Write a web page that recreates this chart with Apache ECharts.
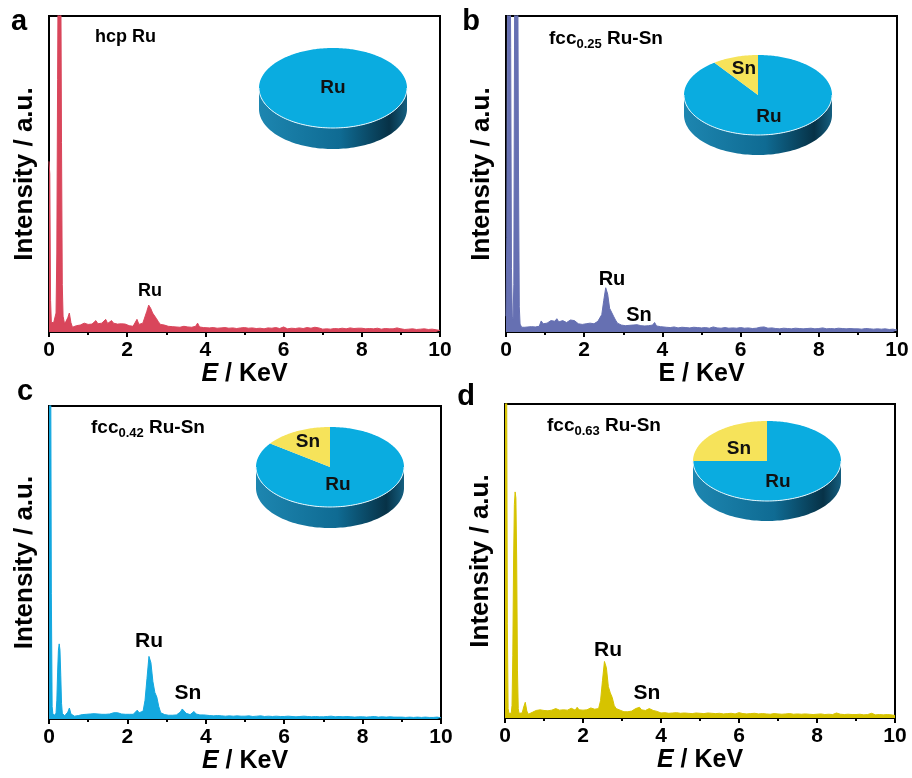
<!DOCTYPE html>
<html><head><meta charset="utf-8">
<script src="https://cdn.jsdelivr.net/npm/echarts@6/dist/echarts.min.js"></script>
<style>html,body{margin:0;padding:0;background:#fff}#c{width:912px;height:778px}</style>
</head><body><div id="c"></div>
<script>
// ---------- data ----------
const energies = [
 0,0.02,0.04,0.06,0.08,0.10,0.12,0.14,0.16,0.18,0.20,0.22,0.24,0.26,0.28,0.30,0.32,0.34,0.36,
 0.40,0.44,0.48,0.52,0.56,0.60,0.65,0.70,
 0.75,0.80,0.85,0.90,0.95,
 1.00,1.05,1.10,1.15,1.20,1.25,1.30,1.35,1.40,1.45,1.50,1.55,1.60,1.65,1.70,1.75,1.80,1.85,1.90,1.95,
 2.00,2.05,2.10,2.15,2.20,2.25,2.30,2.35,2.40,2.45,2.50,2.55,2.60,2.65,2.70,2.75,2.80,2.85,2.90,2.95,
 3.00,3.05,3.10,3.15,3.20,3.25,3.30,3.35,3.40,3.45,3.50,3.55,3.60,3.65,3.70,3.75,3.80,3.85,3.90,3.95,
 4.0,4.1,4.2,4.3,4.4,4.5,4.6,4.7,4.8,4.9,
 5.0,5.1,5.2,5.3,5.4,5.5,5.6,5.7,5.8,5.9,
 6.0,6.1,6.2,6.3,6.4,6.5,6.6,6.7,6.8,6.9,
 7.0,7.1,7.2,7.3,7.4,7.5,7.6,7.7,7.8,7.9,
 8.0,8.1,8.2,8.3,8.4,8.5,8.6,8.7,8.8,8.9,
 9.0,9.1,9.2,9.3,9.4,9.5,9.6,9.7,9.8,9.9,
 10.0
];

// intensities in % of the plotted height (values above 100 are cut by the frame)
const intensityHcpRu = [
 54,50,10,3,2.5,3,3,2.5,3,6,25,80,130,140,140,120,60,15,5,
 2.5,3,4.5,6,3,1.5,1.5,2,
 2,2.2,2.5,2.8,2.6,
 2.4,2.2,2.5,2.3,3.6,2.6,2.4,2.8,2.5,4.0,2.7,3.0,3.6,2.8,2.6,2.5,2.4,2.6,2.3,2.5,
 2.2,2.0,2.1,1.8,2.2,4.0,2.4,2.2,2.8,3.0,6.5,8.5,7.5,6.0,5.8,4.2,3.2,2.4,2.0,2.2,
 2.6,1.8,2.0,1.7,1.5,1.6,1.4,1.5,1.6,1.8,1.5,1.6,1.7,1.5,1.6,1.8,2.8,1.6,1.5,1.4,
 1.5,1.3,1.4,1.2,1.3,1.4,1.2,1.3,1.1,1.3,
 1.4,1.2,1.3,1.1,1.2,1.0,1.3,1.2,1.4,1.1,
 1.6,1.0,1.2,1.1,1.3,1.1,1.4,1.2,1.5,1.3,
 0.9,1.0,0.9,1.1,1.0,1.2,1.0,1.3,1.1,1.2,
 1.2,1.0,1.1,1.0,1.2,0.9,1.1,1.0,1.0,1.3,
 1.0,0.8,0.9,1.0,0.8,0.9,1.0,0.8,0.9,0.7,
 0.5
];
const intensityFcc025 = [
 5,30,110,140,140,130,90,20,5,4,15,100,140,145,140,120,50,8,2.5,
 1.5,1.8,1.5,2.0,1.6,1.4,1.7,1.5,
 1.6,1.5,1.8,3.5,2.6,
 3.0,2.8,3.2,3.6,3.0,3.4,4.2,3.2,3.0,3.6,3.3,3.0,3.4,3.8,3.2,3.6,3.0,2.6,2.8,2.4,
 2.0,2.6,3.0,2.8,3.2,2.6,3.0,3.4,3.6,5.5,10,14,12,7.5,7.0,5.0,3.8,2.8,2.4,2.2,
 1.8,2.0,1.9,2.1,2.4,2.2,2.0,2.3,2.1,2.0,2.2,1.9,2.1,2.0,1.8,2.2,3.0,1.9,1.8,1.7,
 1.6,1.5,1.4,1.6,1.3,1.5,1.4,1.3,1.5,1.4,
 1.3,1.4,1.2,1.6,1.3,1.2,1.4,1.2,1.3,1.2,
 1.4,1.2,1.3,1.1,1.2,1.5,1.6,1.2,1.3,1.1,
 1.0,1.2,1.1,1.0,1.2,1.1,1.0,1.1,1.2,1.0,
 1.1,1.3,1.0,1.1,1.0,1.2,1.1,1.0,1.1,1.0,
 1.0,0.9,1.1,1.0,0.9,1.0,0.9,1.0,0.8,0.9,
 0.6
];
const intensityFcc042 = [
 120,140,130,40,4,1.5,1.2,1.0,1.2,2.0,6,15,22,24,22,14,5,1.8,1.2,
 1.0,1.2,2.2,3.5,1.6,1.0,0.9,1.0,
 1.1,1.6,1.4,1.3,1.5,
 1.5,1.6,1.4,1.7,1.5,1.6,1.4,1.5,1.6,1.5,1.4,1.6,2.2,2.0,1.8,2.0,1.7,1.6,1.8,1.5,
 1.4,1.5,1.6,1.5,1.8,2.8,2.0,2.2,2.5,6,13,20,18,12,8.5,7,4,2,1.5,1.4,
 1.3,1.2,1.3,1.2,1.4,1.3,1.6,2.2,3.2,3.0,1.8,1.5,1.4,2.0,2.4,1.6,1.4,1.3,1.2,1.3,
 1.2,1.1,1.0,1.1,1.0,0.9,1.0,0.9,1.0,0.9,
 0.9,1.0,0.8,0.9,1.0,0.8,0.9,0.8,0.9,0.8,
 0.8,0.9,0.8,0.7,0.8,0.9,0.8,0.7,0.8,0.7,
 0.7,0.8,0.9,0.7,0.8,0.7,0.8,0.7,0.6,0.7,
 0.7,0.6,0.7,0.8,0.6,0.7,0.6,0.7,0.6,0.6,
 0.6,0.5,0.6,0.5,0.6,0.5,0.6,0.5,0.5,0.6,
 0.4
];
const intensityFcc063 = [
 130,140,120,30,3,1.5,1.2,1.2,1.5,4,20,50,68,72,70,50,15,3,1.5,
 1.2,1.6,3.5,5.0,2.2,1.2,1.5,1.8,
 2.0,2.4,2.2,2.6,2.5,
 2.4,2.6,2.3,2.8,2.5,2.6,3.0,2.7,2.5,2.9,2.6,2.8,2.5,2.7,3.1,2.6,2.5,3.4,2.6,2.4,
 2.5,2.3,2.6,2.8,3.2,3.6,2.8,2.6,3.0,5.5,12,18,16,10,8,6.5,4,3.0,2.6,2.5,
 2.2,2.0,2.2,2.0,2.3,2.2,2.6,3.0,3.6,3.4,2.6,2.5,2.4,2.6,3.0,2.6,2.4,2.2,2.1,1.8,
 1.6,1.7,1.5,1.6,1.7,1.5,1.6,1.5,1.4,1.6,
 1.5,1.4,1.6,1.5,1.4,1.5,1.3,1.4,1.5,1.3,
 1.7,1.4,1.3,1.4,1.5,1.3,1.4,1.3,1.2,1.4,
 1.3,1.2,1.3,1.4,1.2,1.3,1.2,1.3,1.2,1.1,
 1.2,1.3,1.1,1.2,1.1,1.6,1.2,1.1,1.2,1.1,
 1.1,1.2,1.0,1.1,1.5,1.0,1.1,1.0,1.1,1.0,
 0.8
];

const panelLetters = ['a', 'b', 'c', 'd'];
const sampleBase = ['hcp Ru', 'fcc', 'fcc', 'fcc'];
const sampleSub = ['', '0.25', '0.42', '0.63'];
const sampleTail = ['', ' Ru-Sn', ' Ru-Sn', ' Ru-Sn'];
const ruPercent = [100, 90, 85, 75];
const snPercent = [0, 10, 15, 25];
const xAxisTitles = ['{i|E} / KeV', 'E / KeV', '{i|E} / KeV', '{i|E} / KeV'];
const yAxisTitle = 'Intensity / a.u.';
const peakLabels = [['Ru'], ['Ru', 'Sn'], ['Ru', 'Sn'], ['Ru', 'Sn']];

// ---------- layout / style ----------
const FONT = "'Liberation Sans', Arial, Helvetica, sans-serif";
const spectra = [intensityHcpRu, intensityFcc025, intensityFcc042, intensityFcc063];
const colors = ['#d9465b', '#6670b2', '#14a8df', '#d6c300'];
const grids = [
  {left: 49, top: 16, width: 391, height: 316},
  {left: 506, top: 16, width: 391, height: 316},
  {left: 49, top: 406, width: 392, height: 313},
  {left: 505, top: 404, width: 390, height: 314}
];
const letterPos = [[19, 22], [471, 22], [25, 392], [466, 397]];
const samplePos = [[95, 37], [549, 39], [91, 428], [547, 426]];
const sampleFont = [18, 19, 19, 19];
const peakLabelPos = [
  [[150, 291]],
  [[612, 279], [639, 315]],
  [[149, 641], [188, 693]],
  [[608, 650], [647, 693]]
];
const peakFont = [18, 20, 21, 21];
const pieLayout = [
  {cx: 333, cy: 88, rx: 74, ry: 40, depth: 21, Ru: [333, 88]},
  {cx: 758, cy: 95, rx: 74, ry: 40, depth: 20, Sn: [744, 69], Ru: [769, 117]},
  {cx: 330, cy: 467, rx: 74, ry: 40, depth: 21, Sn: [308, 442], Ru: [338, 485]},
  {cx: 767, cy: 461, rx: 74, ry: 40, depth: 20, Sn: [739, 449], Ru: [778, 482]}
];

spectra.forEach((s, i) => { if (s.length !== energies.length) console.error('length mismatch', i, s.length, energies.length); });

const chart = echarts.init(document.getElementById('c'), null, {renderer: 'canvas'});

const option = {
  animation: false,
  backgroundColor: '#fff',
  grid: grids.map(g => Object.assign({show: true, borderColor: '#000', borderWidth: 2, backgroundColor: 'transparent'}, g)),
  xAxis: grids.map((g, i) => ({
    gridIndex: i, type: 'value', min: 0, max: 10, interval: 2,
    axisLine: {show: true, onZero: false, lineStyle: {color: '#000', width: 2}},
    axisTick: {show: true, inside: false, length: 5, lineStyle: {color: '#000', width: 2}},
    minorTick: {show: true, splitNumber: 2, length: 3, lineStyle: {color: '#000', width: 2}},
    splitLine: {show: false}, minorSplitLine: {show: false},
    axisLabel: {color: '#000', fontSize: 21, fontWeight: 'bold', fontFamily: FONT, margin: 8},
    name: xAxisTitles[i], nameLocation: 'middle', nameGap: 30,
    nameTextStyle: {color: '#000', fontSize: 25, fontWeight: 'bold', fontFamily: FONT,
      rich: {i: {fontStyle: 'italic', fontSize: 25, fontWeight: 'bold', fontFamily: FONT, color: '#000'}}}
  })),
  yAxis: grids.map((g, i) => ({
    gridIndex: i, type: 'value', min: 0, max: 100,
    axisLine: {show: true, lineStyle: {color: '#000', width: 2}},
    axisTick: {show: false}, axisLabel: {show: false}, splitLine: {show: false},
    name: yAxisTitle, nameLocation: 'middle', nameGap: 11,
    nameTextStyle: {color: '#000', fontSize: 26, fontWeight: 'bold', fontFamily: FONT}
  })),
  series: [],
  graphic: []
};

spectra.forEach((vals, i) => {
  option.series.push({
    type: 'line', xAxisIndex: i, yAxisIndex: i, clip: true,
    data: energies.map((e, k) => [e, vals[k]]),
    showSymbol: false, symbol: 'none', smooth: false,
    lineStyle: {color: colors[i], width: 1},
    areaStyle: {color: colors[i], opacity: 1},
    z: 2
  });
});

// 3D-looking pie insets drawn by a custom series from the composition arrays
function ellipsePoint(L, t) { // t: angle counter-clockwise from 12 o'clock
  return [L.cx - L.rx * Math.sin(t), L.cy - L.ry * Math.cos(t)];
}
ruPercent.forEach((ru, p) => {
  const L = pieLayout[p];
  const sn = snPercent[p];
  const items = [{name: 'Ru', value: [sn, sn + ru]}];
  if (sn > 0) items.push({name: 'Sn', value: [0, sn]});
  option.series.push({
    type: 'custom', coordinateSystem: 'none', silent: true, z: 10,
    data: items,
    renderItem: function (params, api) {
      const name = items[params.dataIndex].name;
      const a0 = api.value(0) / 100 * Math.PI * 2;
      const a1 = api.value(1) / 100 * Math.PI * 2;
      const children = [];
      if (name === 'Ru') {
        const up = [], low = [];
        for (let k = 0; k <= 90; k++) {
          const f = Math.PI * k / 90;
          up.push([L.cx + L.rx * Math.cos(f), L.cy + L.ry * Math.sin(f)]);
        }
        for (let k = 90; k >= 0; k--) {
          const f = Math.PI * k / 90;
          low.push([L.cx + L.rx * Math.cos(f), L.cy + L.depth + L.ry * Math.sin(f)]);
        }
        children.push({
          type: 'polygon', shape: {points: up.concat(low)},
          style: {fill: new echarts.graphic.LinearGradient(1, 0, 0, 0, [
            {offset: 0, color: '#155f80'},
            {offset: 0.12, color: '#073247'},
            {offset: 0.45, color: '#0f6b93'},
            {offset: 1, color: '#1d86b0'}
          ])}
        });
      }
      const pts = [[L.cx, L.cy]];
      const n = Math.max(2, Math.ceil((a1 - a0) / (Math.PI / 180)));
      for (let k = 0; k <= n; k++) pts.push(ellipsePoint(L, a0 + (a1 - a0) * k / n));
      children.push({type: 'polygon', shape: {points: pts},
        style: {fill: name === 'Ru' ? '#0aace0' : '#f6e35a'}});
      if (name === 'Ru') {
        const edge = [];
        for (let k = 0; k <= 90; k++) {
          const f = Math.PI * k / 90;
          edge.push([L.cx + L.rx * Math.cos(f), L.cy + L.ry * Math.sin(f)]);
        }
        children.push({type: 'polyline', shape: {points: edge}, style: {stroke: '#e6f6fc', lineWidth: 1, fill: null}});
      }
      const lp = L[name];
      children.push({type: 'text', x: lp[0], y: lp[1],
        style: {text: name, fill: '#111', fontSize: 19, fontWeight: 'bold', fontFamily: FONT,
          align: 'center', verticalAlign: 'middle', textAlign: 'center', textVerticalAlign: 'middle'}});
      return {type: 'group', children: children};
    }
  });
});

// annotations
panelLetters.forEach((l, i) => {
  option.graphic.push({type: 'text', x: letterPos[i][0], y: letterPos[i][1], z: 20,
    style: {text: l, fill: '#000', fontSize: 29, fontWeight: 'bold', fontFamily: FONT,
      align: 'center', verticalAlign: 'middle', textAlign: 'center', textVerticalAlign: 'middle'}});
  const txt = sampleSub[i] ? '{m|' + sampleBase[i] + '}{s|' + sampleSub[i] + '}{m|' + sampleTail[i] + '}' : '{m|' + sampleBase[i] + '}';
  option.graphic.push({type: 'text', x: samplePos[i][0], y: samplePos[i][1], z: 20,
    style: {text: txt, fill: '#000', align: 'left', verticalAlign: 'middle', textAlign: 'left', textVerticalAlign: 'middle',
      rich: {
        m: {fontSize: sampleFont[i], fontWeight: 'bold', fontFamily: FONT, fill: '#000', lineHeight: 24, verticalAlign: 'middle'},
        s: {fontSize: 13, fontWeight: 'bold', fontFamily: FONT, fill: '#000', lineHeight: 12, verticalAlign: 'bottom'}
      }}});
  peakLabels[i].forEach((t, j) => {
    option.graphic.push({type: 'text', x: peakLabelPos[i][j][0], y: peakLabelPos[i][j][1], z: 20,
      style: {text: t, fill: '#000', fontSize: peakFont[i], fontWeight: 'bold', fontFamily: FONT,
        align: 'center', verticalAlign: 'middle', textAlign: 'center', textVerticalAlign: 'middle'}});
  });
});

chart.setOption(option);
</script>
</body></html>
